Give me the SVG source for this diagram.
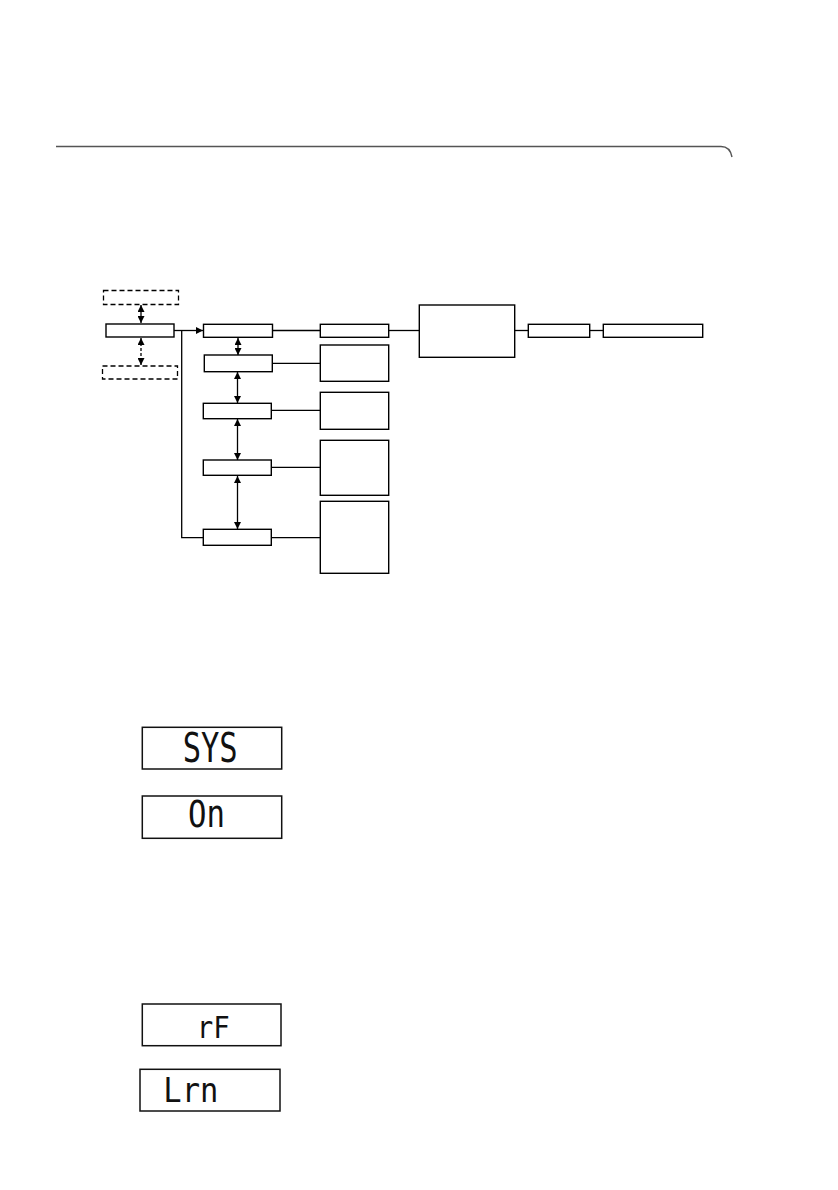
<svg xmlns="http://www.w3.org/2000/svg" width="838" height="1190" viewBox="0 0 838 1190">
<style>
.bx{fill:#fff;stroke:#000;stroke-width:1.4}
.dbx{fill:#fff;stroke:#000;stroke-width:1.3;stroke-dasharray:5,3}
.ln{fill:none;stroke:#000;stroke-width:1.3}
.disp{fill:#fff;stroke:#111;stroke-width:1.5}
.seg{font-family:"DejaVu Sans Mono","Liberation Mono",monospace;fill:#111}
</style>
<defs>
<marker id="ah" viewBox="0 0 10 10" refX="10" refY="5" markerWidth="7" markerHeight="7" markerUnits="userSpaceOnUse" orient="auto-start-reverse">
<path d="M0,0 L10,5 L0,10 Z" fill="#000"/>
</marker>
</defs>
<rect width="838" height="1190" fill="#fff"/>
<g id="header">
<path d="M56,146.5 H721 Q730,146.5 732,157" fill="none" stroke="#555" stroke-width="1.4"/>
</g>
<g id="connectors">
<line class="ln" x1="141" y1="305" x2="141" y2="323" marker-start="url(#ah)" marker-end="url(#ah)"/>
<line class="ln" x1="141" y1="338" x2="141" y2="365" stroke-dasharray="3,2" marker-start="url(#ah)" marker-end="url(#ah)"/>
<line class="ln" x1="174" y1="330.5" x2="203" y2="330.5" marker-end="url(#ah)"/>
<path class="ln" d="M181.7,330.5 V537.7 H203"/>
<line class="ln" x1="238" y1="338" x2="238" y2="355" marker-start="url(#ah)" marker-end="url(#ah)"/>
<line class="ln" x1="237.5" y1="372" x2="237.5" y2="403" marker-start="url(#ah)" marker-end="url(#ah)"/>
<line class="ln" x1="237.5" y1="419" x2="237.5" y2="460" marker-start="url(#ah)" marker-end="url(#ah)"/>
<line class="ln" x1="237.5" y1="476" x2="237.5" y2="529" marker-start="url(#ah)" marker-end="url(#ah)"/>
<line class="ln" x1="272" y1="330.5" x2="320" y2="330.5"/>
<line class="ln" x1="272" y1="363.3" x2="320" y2="363.3"/>
<line class="ln" x1="271" y1="410.3" x2="320" y2="410.3"/>
<line class="ln" x1="271" y1="467.3" x2="320" y2="467.3"/>
<line class="ln" x1="271" y1="537.7" x2="320" y2="537.7"/>
<line class="ln" x1="389" y1="330.5" x2="419" y2="330.5" stroke="#555"/>
<line class="ln" x1="514.5" y1="330.5" x2="528" y2="330.5" stroke="#555"/>
<line class="ln" x1="589.5" y1="330.5" x2="603" y2="330.5"/>
</g>
<g id="n-dash-top"><rect class="dbx" x="103.5" y="290.5" width="75" height="14"/></g>
<g id="n-main"><rect class="bx" x="106" y="324" width="68" height="13"/></g>
<g id="n-dash-bot"><rect class="dbx" x="102.5" y="366" width="75" height="13"/></g>
<g id="n-b1"><rect class="bx" x="203.5" y="324.3" width="69" height="13"/></g>
<g id="n-b2"><rect class="bx" x="204.3" y="355" width="68" height="16.7"/></g>
<g id="n-b3"><rect class="bx" x="203.3" y="403.3" width="68" height="15.4"/></g>
<g id="n-b4"><rect class="bx" x="203.3" y="460" width="68" height="15.3"/></g>
<g id="n-b5"><rect class="bx" x="203.3" y="529.3" width="68" height="16"/></g>
<g id="n-r1"><rect class="bx" x="320.3" y="324.3" width="68.4" height="13"/></g>
<g id="n-r2"><rect class="bx" x="320.3" y="345" width="68.4" height="36.3"/></g>
<g id="n-r3"><rect class="bx" x="320.3" y="392.3" width="68.4" height="37"/></g>
<g id="n-r4"><rect class="bx" x="320.3" y="440.3" width="68.4" height="55"/></g>
<g id="n-r5"><rect class="bx" x="320.3" y="501.3" width="68.4" height="72"/></g>
<g id="n-big"><rect class="bx" x="419.3" y="305" width="95.4" height="52.3"/></g>
<g id="n-c1"><rect class="bx" x="528.3" y="324.3" width="61.4" height="13"/></g>
<g id="n-c2"><rect class="bx" x="603.3" y="324.3" width="99.4" height="13"/></g>
<g id="disp-sys">
<rect class="disp" x="142.3" y="727.3" width="139.4" height="41.7"/>
<text class="seg" x="182.7" y="761.7" font-size="41" textLength="55" lengthAdjust="spacingAndGlyphs">SYS</text>
</g>
<g id="disp-on">
<rect class="disp" x="142.3" y="796" width="139.4" height="42.3"/>
<text class="seg" x="188" y="826.7" font-size="37" textLength="37" lengthAdjust="spacingAndGlyphs">On</text>
</g>
<g id="disp-rf">
<rect class="disp" x="142.3" y="1004" width="138.7" height="41.7"/>
<text class="seg" x="196.7" y="1038" font-size="30" textLength="33" lengthAdjust="spacingAndGlyphs">rF</text>
</g>
<g id="disp-lrn">
<rect class="disp" x="140" y="1069.3" width="140" height="41.7"/>
<text class="seg" x="163.3" y="1102.3" font-size="33" textLength="55" lengthAdjust="spacingAndGlyphs">Lrn</text>
</g>
</svg>
